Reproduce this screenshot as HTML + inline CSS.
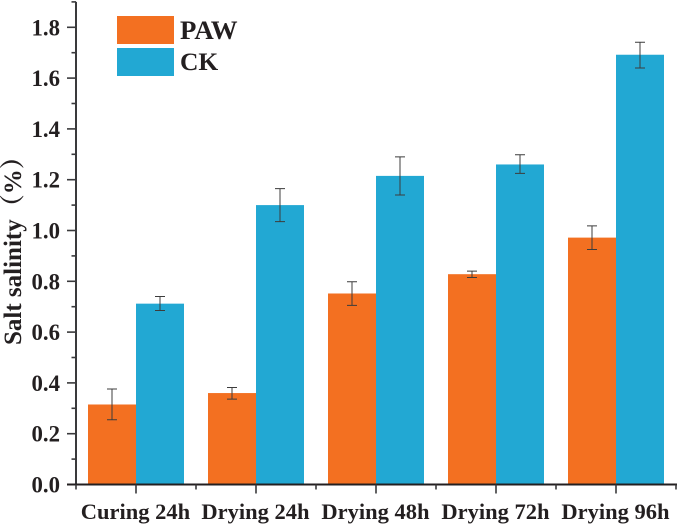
<!DOCTYPE html>
<html>
<head>
<meta charset="utf-8">
<style>
html,body{margin:0;padding:0;background:#fff;width:677px;height:526px;overflow:hidden}
svg{display:block}
text{font-family:"Liberation Serif","Noto Serif CJK SC",serif;font-weight:bold;fill:#231f20}
</style>
</head>
<body>
<svg id="chart" xmlns="http://www.w3.org/2000/svg" width="677" height="526" viewBox="0 0 677 526"></svg>
<script>
const categories = ["Curing 24h", "Drying 24h", "Drying 48h", "Drying 72h", "Drying 96h"];
const pawValues = [0.315, 0.36, 0.752, 0.828, 0.972];
const pawErrLow = [0.255, 0.336, 0.705, 0.815, 0.925];
const pawErrHigh = [0.376, 0.382, 0.798, 0.84, 1.018];
const ckValues = [0.712, 1.1, 1.215, 1.26, 1.692];
const ckErrLow = [0.685, 1.035, 1.14, 1.225, 1.64];
const ckErrHigh = [0.74, 1.165, 1.29, 1.298, 1.741];
const majorTicks = ["0.0", "0.2", "0.4", "0.6", "0.8", "1.0", "1.2", "1.4", "1.6", "1.8"];
const yMax = 1.9;

const svg = document.getElementById('chart');
const NS = 'http://www.w3.org/2000/svg';
const y0 = 484.5, pxPerUnit = 254, x0 = 76, step = 120, barW = 48;
const DARK = '#3a3a3c';
function yScale(v){ return y0 - v * pxPerUnit; }
function xCenter(i){ return x0 + step * (i + 0.5); }

function make(tag, attrs, parent){
  const el = document.createElementNS(NS, tag);
  for (const k in attrs) el.setAttribute(k, attrs[k]);
  (parent || svg).appendChild(el);
  return el;
}

function drawBars(values, low, high, color, offset, label){
  values.forEach(function(v, i){
    const g = make('g', {});
    
    
    const left = xCenter(i) + offset;
    const bar = make('rect', {x: left, y: yScale(v), width: barW, height: y0 - yScale(v), fill: color}, g);
    
    
    const cx = left + barW / 2;
    const err = make('path', {
      d: 'M' + (cx - 5) + ' ' + yScale(high[i]) + 'H' + (cx + 5) +
         'M' + cx + ' ' + yScale(high[i]) + 'V' + yScale(low[i]) +
         'M' + (cx - 5) + ' ' + yScale(low[i]) + 'H' + (cx + 5),
      fill: 'none', stroke: '#3c3c3c', 'stroke-width': 1
    }, g);
    
    
  });
}
drawBars(pawValues, pawErrLow, pawErrHigh, '#f37021', -barW, 'paw');
drawBars(ckValues, ckErrLow, ckErrHigh, '#22a8d3', 0, 'ck');

// Y axis
const yAxis = make('line', {x1: x0, x2: x0, y1: yScale(yMax), y2: y0 + 1, stroke: DARK, 'stroke-width': 2});



majorTicks.forEach(function(t){
  const v = parseFloat(t);
  const tick = make('line', {x1: 67, x2: x0, y1: yScale(v), y2: yScale(v), stroke: DARK, 'stroke-width': 1.6});
  
  
  const label = make('text', {x: 60, y: yScale(v) + 8, 'text-anchor': 'end', 'font-size': 22.8});
  label.textContent = t;
  
  
  const mv = v + 0.1;
  if (mv <= yMax + 0.001) {
    const minor = make('line', {x1: 71.5, x2: x0, y1: yScale(mv), y2: yScale(mv), stroke: DARK, 'stroke-width': 1.6});
    
    
  }
});

// X axis
const xAxis = make('line', {x1: 67, x2: 677, y1: y0, y2: y0, stroke: '#231f20', 'stroke-width': 2});



categories.forEach(function(c, i){
  const cx = xCenter(i);
  const tick = make('line', {x1: cx, x2: cx, y1: y0, y2: y0 + 9, stroke: DARK, 'stroke-width': 1.6});
  
  
  const label = make('text', {x: cx - 0.5, y: 519, 'text-anchor': 'middle', 'font-size': 22.5});
  label.textContent = c;
  
  
});
for (let i = 0; i <= categories.length; i++) {
  const mx = x0 + step * i;
  const minor = make('line', {x1: mx, x2: mx, y1: y0, y2: y0 + 5, stroke: DARK, 'stroke-width': 1.6});
  
  
}

// Y axis title
const title = make('text', {transform: 'translate(21,345) rotate(-90)', 'font-size': 25});
title.textContent = 'Salt salinity（%）';



// Legend
const legend = make('g', {});


const swatchPaw = make('rect', {x: 117, y: 16, width: 57, height: 28, fill: '#f37021'}, legend);


const swatchCk = make('rect', {x: 117, y: 48, width: 57, height: 28, fill: '#22a8d3'}, legend);


const textPaw = make('text', {x: 180, y: 39, 'font-size': 26.8}, legend);
textPaw.textContent = 'PAW';


const textCk = make('text', {x: 180, y: 70, 'font-size': 25.5}, legend);
textCk.textContent = 'CK';


</script>
</body>
</html>
